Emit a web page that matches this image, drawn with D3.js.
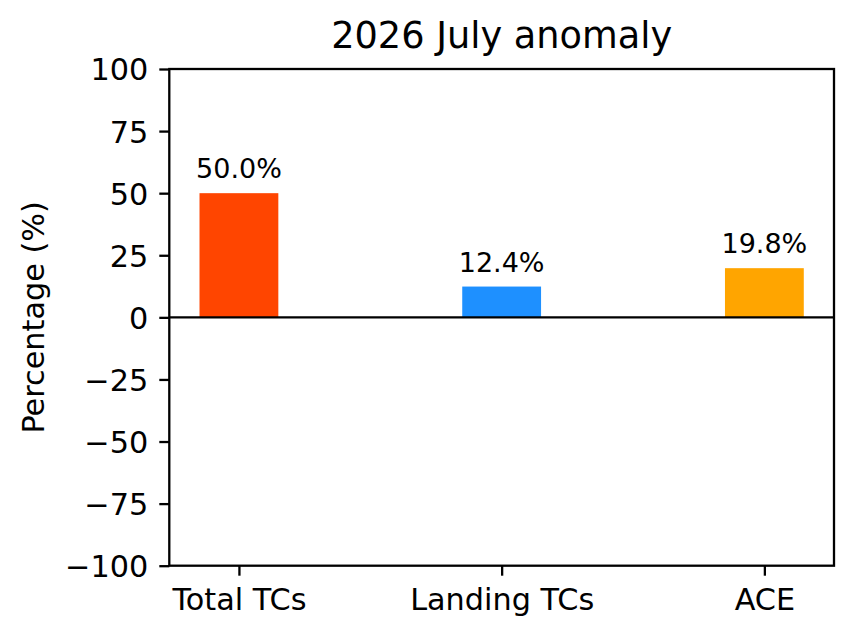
<!DOCTYPE html>
<html>
<head>
<meta charset="utf-8">
<script src="https://cdn.jsdelivr.net/npm/d3@7"></script>
<style>
	body { margin: 0; background: #fff; }
	text { font-family: "DejaVu Sans", sans-serif; fill: #000; }
</style>
</head>
<body>
<div id="chart"></div>
<script>
"use strict";

// chart data
const categories = ['Total TCs', 'Landing TCs', 'ACE'];
const anomalies = [50.0, 12.4, 19.8];
const barColors = ['#ff4500', '#1e90ff', '#ffa500'];
const yTicks = [-100, -75, -50, -25, 0, 25, 50, 75, 100];
const titleText = '2026 July anomaly';
const yLabelText = 'Percentage (%)';

const W = 856, H = 638;
const PLOT = { left: 169.3, right: 834, top: 69, bottom: 565.7 };
const BAR_WIDTH = 0.3;
const TICK_LEN = 10;

// matplotlib-like margins around bars at 0..n-1
const halfSpan = (categories.length - 1 + BAR_WIDTH) / 2;
const mid = (categories.length - 1) / 2;
const x = d3.scaleLinear()
	.domain([mid - halfSpan * 1.1, mid + halfSpan * 1.1])
	.range([PLOT.left, PLOT.right]);

const y = d3.scaleLinear()
	.domain([-100, 100])
	.range([PLOT.bottom, PLOT.top]);

const svg = d3.select('#chart')
	.append('svg')
	.attr('width', W)
	.attr('height', H);

svg.append('rect')
	.attr('width', W)
	.attr('height', H)
	.attr('fill', '#fff');

const data = categories.map((c, i) => ({ name: c, value: anomalies[i], color: barColors[i], i }));

// bars
svg.selectAll('.bar')
	.data(data)
	.enter().append('rect')
	.attr('class', 'bar')
	.attr('x', d => x(d.i - BAR_WIDTH / 2))
	.attr('width', d => x(d.i + BAR_WIDTH / 2) - x(d.i - BAR_WIDTH / 2))
	.attr('y', d => y(Math.max(0, d.value)))
	.attr('height', d => Math.abs(y(d.value) - y(0)))
	.attr('fill', d => d.color);

// value labels
svg.selectAll('.val')
	.data(data)
	.enter().append('text')
	.attr('class', 'val')
	.attr('x', d => x(d.i))
	.attr('y', d => y(d.value) - 15)
	.attr('text-anchor', 'middle')
	.style('font-size', '27px')
	.text(d => d3.format('.1f')(d.value) + '%');

// zero line
svg.append('line')
	.attr('x1', PLOT.left)
	.attr('x2', PLOT.right)
	.attr('y1', y(0))
	.attr('y2', y(0))
	.attr('stroke', '#000')
	.attr('stroke-width', 2.3);

// y axis
const yAxis = svg.append('g')
	.attr('transform', `translate(${PLOT.left},0)`)
	.call(d3.axisLeft(y)
		.tickValues(yTicks)
		.tickSize(TICK_LEN)
		.tickPadding(11)
		.tickFormat(d3.format('d')));
yAxis.select('.domain').remove();
yAxis.selectAll('line').attr('stroke', '#000').attr('stroke-width', 2.3);
yAxis.selectAll('text')
	.attr('dy', '0.36em')
	.style('font-size', '30.3px')
	.style('font-family', '"DejaVu Sans", sans-serif');

// x axis
const xAxis = svg.append('g')
	.attr('transform', `translate(0,${PLOT.bottom})`)
	.call(d3.axisBottom(x)
		.tickValues(data.map(d => d.i))
		.tickSize(TICK_LEN)
		.tickPadding(10)
		.tickFormat(i => categories[i]));
xAxis.select('.domain').remove();
xAxis.selectAll('line').attr('stroke', '#000').attr('stroke-width', 2.3);
xAxis.selectAll('text')
	.attr('dy', null)
	.attr('y', 44)
	.style('font-size', '30.3px')
	.style('font-family', '"DejaVu Sans", sans-serif');

// frame
svg.append('rect')
	.attr('x', PLOT.left)
	.attr('y', PLOT.top)
	.attr('width', PLOT.right - PLOT.left)
	.attr('height', PLOT.bottom - PLOT.top)
	.attr('fill', 'none')
	.attr('stroke', '#000')
	.attr('stroke-width', 2.3);

// title and y label
svg.append('text')
	.attr('x', (PLOT.left + PLOT.right) / 2)
	.attr('y', 48)
	.attr('text-anchor', 'middle')
	.style('font-size', '36.7px')
	.text(titleText);

svg.append('text')
	.attr('transform', `translate(44,${(PLOT.top + PLOT.bottom) / 2}) rotate(-90)`)
	.attr('text-anchor', 'middle')
	.style('font-size', '30.3px')
	.text(yLabelText);
</script>
</body>
</html>
